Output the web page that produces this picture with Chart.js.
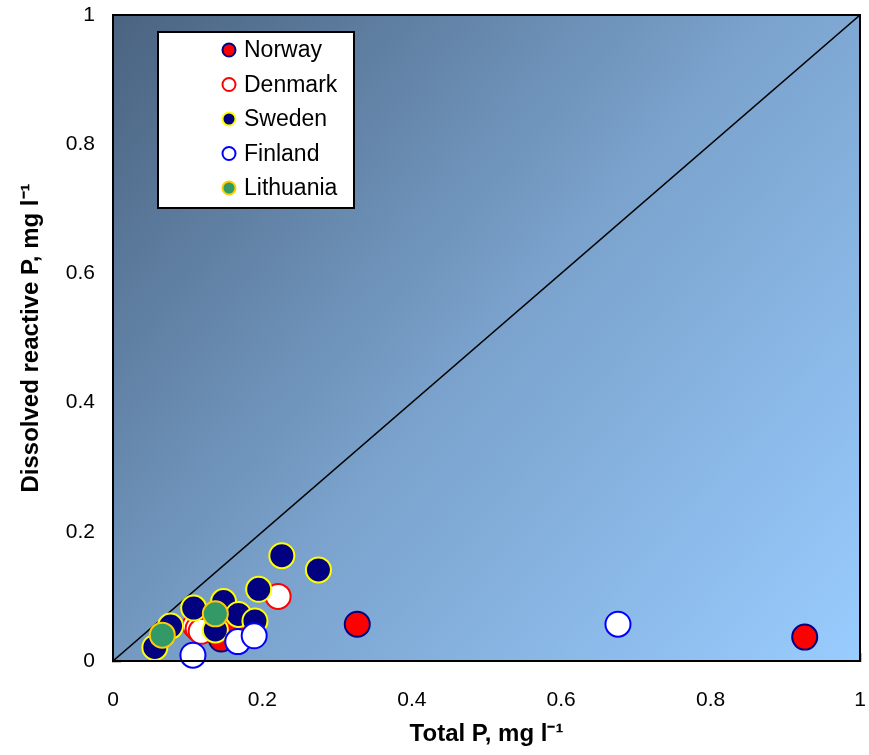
<!DOCTYPE html>
<html>
<head>
<meta charset="utf-8">
<script src="https://cdn.jsdelivr.net/npm/chart.js@4/dist/chart.umd.min.js"></script>
<style>
  html, body { margin: 0; padding: 0; background: #fff; overflow: hidden; }
  #wrap { width: 869px; height: 755px; }
</style>
</head>
<body>
<div id="wrap"><canvas id="chart"></canvas></div>
<script>
// values (Total P, DRP), mg/l
const norwayX = [0.327, 0.926, 0.145, 0.160];
const norwayY = [0.057, 0.037, 0.034, 0.050];

const denmarkX = [0.221, 0.110, 0.114, 0.118];
const denmarkY = [0.100, 0.055, 0.050, 0.046];

const swedenX = [0.226, 0.275, 0.195, 0.108, 0.148, 0.168, 0.190, 0.077, 0.056, 0.137];
const swedenY = [0.163, 0.141, 0.111, 0.082, 0.092, 0.072, 0.062, 0.054, 0.021, 0.048];

const finlandX = [0.107, 0.167, 0.189, 0.676];
const finlandY = [0.009, 0.030, 0.039, 0.057];

const lithuaniaX = [0.066, 0.137];
const lithuaniaY = [0.040, 0.073];

const oneToOne = [0, 1];
const tickValues = [0, 0.2, 0.4, 0.6, 0.8, 1];

const FONT = "'Liberation Sans', Arial, sans-serif";

const pts = (xs, ys) => xs.map((x, i) => ({ x: x, y: ys[i] }));

const series = [
  { label: 'Norway', data: pts(norwayX, norwayY), fill: '#ff0000', edge: '#000080', order: 5 },
  { label: 'Denmark', data: pts(denmarkX, denmarkY), fill: '#ffffff', edge: '#ff0000', order: 4 },
  { label: 'Sweden', data: pts(swedenX, swedenY), fill: '#000080', edge: '#ffff00', order: 3 },
  { label: 'Finland', data: pts(finlandX, finlandY), fill: '#ffffff', edge: '#0000ff', order: 2 },
  { label: 'Lithuania', data: pts(lithuaniaX, lithuaniaY), fill: '#339966', edge: '#ffcc00', order: 1 }
];

const datasets = series.map(s => ({
  type: 'scatter',
  label: s.label,
  data: s.data,
  backgroundColor: s.fill,
  borderColor: s.edge,
  pointRadius: 12.5,
  pointBorderWidth: 2,
  clip: false,
  order: s.order
}));

datasets.push({
  type: 'line',
  label: '1:1',
  data: pts(oneToOne, oneToOne),
  borderColor: '#000000',
  borderWidth: 1.5,
  pointRadius: 0,
  order: 10
});

// gradient background + frame around the plot area
const plotFrame = {
  id: 'plotFrame',
  beforeDatasetsDraw(chart) {
    const { ctx, chartArea: a } = chart;
    const g = ctx.createLinearGradient(a.left, a.top, a.right, a.bottom);
    g.addColorStop(0, '#4a6380');
    g.addColorStop(0.5, '#7aa2cc');
    g.addColorStop(1, '#99ccff');
    ctx.save();
    ctx.fillStyle = g;
    ctx.fillRect(a.left, a.top, a.right - a.left, a.bottom - a.top);
    ctx.restore();
  },
  afterDraw(chart) {
    const { ctx, chartArea: a } = chart;
    ctx.save();
    ctx.strokeStyle = '#000';
    ctx.lineWidth = 2;
    ctx.strokeRect(a.left, a.top, a.right - a.left, a.bottom - a.top);
    ctx.restore();
  }
};

// legend box inside the plot
const boxLegend = {
  id: 'boxLegend',
  afterDraw(chart) {
    const ctx = chart.ctx;
    const x0 = 158, y0 = 32, w = 196, h = 176;
    ctx.save();
    ctx.fillStyle = '#fff';
    ctx.fillRect(x0, y0, w, h);
    ctx.strokeStyle = '#000';
    ctx.lineWidth = 2;
    ctx.strokeRect(x0, y0, w, h);
    ctx.font = '23px ' + FONT;
    ctx.textBaseline = 'middle';
    series.forEach((s, i) => {
      const cy = y0 + 18 + i * 34.5;
      ctx.beginPath();
      ctx.arc(229, cy, 6.5, 0, Math.PI * 2);
      ctx.fillStyle = s.fill;
      ctx.fill();
      ctx.lineWidth = 2;
      ctx.strokeStyle = s.edge;
      ctx.stroke();
      ctx.fillStyle = '#000';
      ctx.fillText(s.label, 244, cy + 1);
    });
    ctx.restore();
  }
};

const noPad = () => ({ left: 0, top: 0, right: 0, bottom: 0 });

const axisCommon = {
  type: 'linear',
  min: 0,
  max: 1,
  afterBuildTicks: axis => { axis.ticks = tickValues.map(v => ({ value: v })); },
  grid: {
    drawOnChartArea: false,
    drawTicks: true,
    tickLength: -8,
    tickWidth: 1.5,
    color: '#000'
  },
  border: { color: '#000', width: 2 }
};

new Chart(document.getElementById('chart'), {
  data: { datasets: datasets },
  plugins: [plotFrame, boxLegend],
  options: {
    responsive: true,
    maintainAspectRatio: false,
    animation: false,
    layout: { autoPadding: false, padding: { top: 15, right: 9, left: 0, bottom: 0 } },
    plugins: {
      legend: { display: false },
      tooltip: { enabled: false }
    },
    scales: {
      x: Object.assign({}, axisCommon, {
        position: 'bottom',
        ticks: {
          font: { family: FONT, size: 21 },
          color: '#000',
          padding: 35,
          maxRotation: 0,
          callback: v => String(v)
        },
        title: {
          display: true,
          text: 'Total P, mg l\u207B\u00B9',
          font: { family: FONT, size: 24, weight: 'bold' },
          color: '#000',
          padding: { top: 0, bottom: 6 }
        },
        afterFit: axis => {
          axis.height = 94;
          axis.getPadding = noPad;
        }
      }),
      y: Object.assign({}, axisCommon, {
        position: 'left',
        ticks: {
          font: { family: FONT, size: 21 },
          color: '#000',
          padding: 26,
          callback: v => String(v)
        },
        title: {
          display: true,
          text: 'Dissolved reactive P, mg l\u207B\u00B9',
          font: { family: FONT, size: 24, weight: 'bold' },
          color: '#000',
          padding: { top: 17, bottom: 0 }
        },
        afterFit: axis => {
          axis.width = 113;
          axis.getPadding = noPad;
        }
      })
    }
  }
});
</script>
</body>
</html>
